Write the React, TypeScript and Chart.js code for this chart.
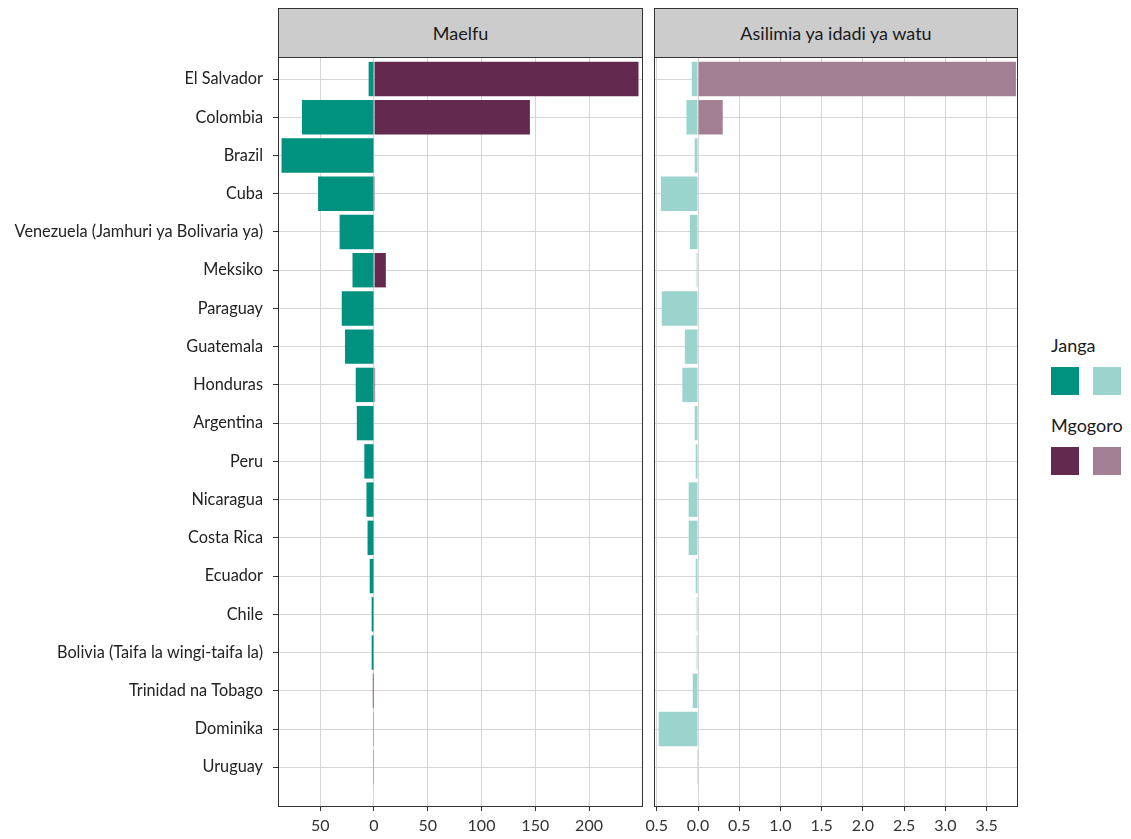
import React, { useEffect, useRef } from "react";
import { Chart, registerables } from "chart.js";
Chart.register(...registerables);

Chart.defaults.font.family = "Lato, 'Open Sans', sans-serif";

const countries = [
  "El Salvador",
  "Colombia",
  "Brazil",
  "Cuba",
  "Venezuela (Jamhuri ya Bolivaria ya)",
  "Meksiko",
  "Paraguay",
  "Guatemala",
  "Honduras",
  "Argentina",
  "Peru",
  "Nicaragua",
  "Costa Rica",
  "Ecuador",
  "Chile",
  "Bolivia (Taifa la wingi-taifa la)",
  "Trinidad na Tobago",
  "Dominika",
  "Uruguay",
];

// Maelfu (thousands)
const jangaThousands = [-5, -67, -86, -52, -32, -20, -30, -27, -17, -16, -9, -7, -6, -4, -2.2, -2.2, 0, -0.8, -0.8];
const mgogoroThousands = [246, 145, 0, 0.8, 0, 11, 0, 0, 1, 0, 0, 0, 0, 0, 0, 0, -1.1, 0, 0];

// Asilimia ya idadi ya watu (percent of population)
const jangaPercent = [-0.076, -0.14, -0.04, -0.45, -0.1, -0.016, -0.44, -0.16, -0.19, -0.04, -0.028, -0.113, -0.113, -0.028, -0.016, -0.016, -0.064, -0.477, -0.012];
const mgogoroPercent = [3.855, 0.3, 0, 0, 0, 0, 0, 0, 0, 0.006, 0, 0, 0, 0, 0, 0, 0, 0.006, 0];

const thousandsTicks = [-50, 0, 50, 100, 150, 200];
const percentTicks = [-0.5, 0, 0.5, 1, 1.5, 2, 2.5, 3, 3.5];

const panelTitles = ["Maelfu", "Asilimia ya idadi ya watu"];
const legendGroups = ["Janga", "Mgogoro"];

const DARK_TEAL = "#00917F";
const LIGHT_TEAL = "#9AD4CD";
const DARK_PURPLE = "#63294F";
const LIGHT_PURPLE = "#A37F93";

const framePlugin = {
  id: "frame",
  afterDraw(chart: any) {
    const { ctx, chartArea } = chart;
    const { left, top, right, bottom } = chartArea;
    ctx.save();
    ctx.strokeStyle = "#333333";
    ctx.lineWidth = 1;
    ctx.strokeRect(left + 0.5, top + 0.5, right - left - 1, bottom - top - 1);
    ctx.restore();
  },
};

type PanelProps = {
  janga: number[];
  mgogoro: number[];
  jColor: string;
  mColor: string;
  xMin: number;
  xMax: number;
  xTicks: number[];
  decimals: number;
  showLabels: boolean;
  left: number;
  width: number;
  padLeft: number;
  padRight: number;
};

function Panel(p: PanelProps) {
  const ref = useRef<HTMLCanvasElement>(null);
  useEffect(() => {
    const chart = new Chart(ref.current as HTMLCanvasElement, {
      type: "bar",
      data: {
        datasets: [
          {
            label: legendGroups[0],
            data: p.janga.map((v, i) => ({ x: v, y: i })),
            backgroundColor: p.jColor,
            barPercentage: 0.9,
            categoryPercentage: 1,
            borderWidth: 0,
            inflateAmount: 0,
          },
          {
            label: legendGroups[1],
            data: p.mgogoro.map((v, i) => ({ x: v, y: i })),
            backgroundColor: p.mColor,
            barPercentage: 0.9,
            categoryPercentage: 1,
            borderWidth: 0,
            inflateAmount: 0,
          },
        ],
      } as any,
      options: {
        indexAxis: "y",
        animation: false,
        responsive: false,
        maintainAspectRatio: false,
        layout: { padding: { top: 57, left: p.padLeft, right: p.padRight, bottom: 0 } },
        plugins: { legend: { display: false }, tooltip: { enabled: false } },
        scales: {
          x: {
            type: "linear",
            min: p.xMin,
            max: p.xMax,
            stacked: true,
            offset: false,
            afterBuildTicks: (s: any) => {
              s.ticks = p.xTicks.map((v) => ({ value: v }));
            },
            afterFit: (s: any) => {
              s.height = 32;
            },
            ticks: {
              callback: (v: any) => Math.abs(Number(v)).toFixed(p.decimals),
              color: "#333333",
              font: { size: 16 },
              padding: 5,
              maxRotation: 0,
              autoSkip: false,
            },
            grid: { color: "#D6D6D6", tickColor: "#333333", tickLength: 4, lineWidth: 1, offset: false },
            border: { display: false },
          },
          y: {
            type: "linear",
            min: -0.576,
            max: 19.04,
            reverse: true,
            stacked: true,
            offset: false,
            afterBuildTicks: (s: any) => {
              s.ticks = countries.map((_, i) => ({ value: i }));
            },
            afterFit: (s: any) => {
              s.width = p.showLabels ? 278 : 0;
            },
            ticks: {
              display: p.showLabels,
              callback: (v: any) => countries[Number(v)],
              color: "#222222",
              font: { size: 16.3 },
              padding: 10,
              autoSkip: false,
            },
            grid: {
              color: "#D6D6D6",
              tickColor: "#333333",
              tickLength: 5,
              drawTicks: p.showLabels,
              lineWidth: 1,
              offset: false,
            },
            border: { display: false },
          },
        },
      } as any,
      plugins: [framePlugin],
    });
    return () => chart.destroy();
  }, []);
  return (
    <canvas
      ref={ref}
      width={p.width}
      height={839}
      style={{ position: "absolute", left: p.left, top: 0, width: p.width, height: 839 }}
    />
  );
}

const stripStyle: React.CSSProperties = {
  position: "absolute",
  top: 8,
  height: 50,
  boxSizing: "border-box",
  background: "#CCCCCC",
  border: "1px solid #333333",
  display: "flex",
  alignItems: "center",
  justifyContent: "center",
  fontFamily: "Lato, sans-serif",
  fontSize: 18,
  color: "#1A1A1A",
};

const swatch = (left: number, top: number, color: string): React.CSSProperties => ({
  position: "absolute",
  left,
  top,
  width: 28,
  height: 28,
  background: color,
});

const legendTitle = (top: number): React.CSSProperties => ({
  position: "absolute",
  left: 1051,
  top,
  fontFamily: "Lato, sans-serif",
  fontSize: 18,
  lineHeight: "18px",
  color: "#1A1A1A",
});

export default function App() {
  return (
    <div style={{ position: "absolute", left: 0, top: 0, width: 1131, height: 839, background: "#FFFFFF", overflow: "hidden" }}>
      <Panel
        janga={jangaThousands}
        mgogoro={mgogoroThousands}
        jColor={DARK_TEAL}
        mColor={DARK_PURPLE}
        xMin={-89.29}
        xMax={250.2}
        xTicks={thousandsTicks}
        decimals={0}
        showLabels={true}
        left={0}
        width={650}
        padLeft={0}
        padRight={7}
      />
      <Panel
        janga={jangaPercent}
        mgogoro={mgogoroPercent}
        jColor={LIGHT_TEAL}
        mColor={LIGHT_PURPLE}
        xMin={-0.5335}
        xMax={3.88}
        xTicks={percentTicks}
        decimals={1}
        showLabels={false}
        left={634}
        width={392}
        padLeft={20}
        padRight={8}
      />
      <div style={{ ...stripStyle, left: 278, width: 365 }}>{panelTitles[0]}</div>
      <div style={{ ...stripStyle, left: 654, width: 364 }}>{panelTitles[1]}</div>
      <div style={legendTitle(336)}>{legendGroups[0]}</div>
      <div style={swatch(1051, 367, DARK_TEAL)} />
      <div style={swatch(1093, 367, LIGHT_TEAL)} />
      <div style={legendTitle(416)}>{legendGroups[1]}</div>
      <div style={swatch(1051, 447, DARK_PURPLE)} />
      <div style={swatch(1093, 447, LIGHT_PURPLE)} />
    </div>
  );
}
